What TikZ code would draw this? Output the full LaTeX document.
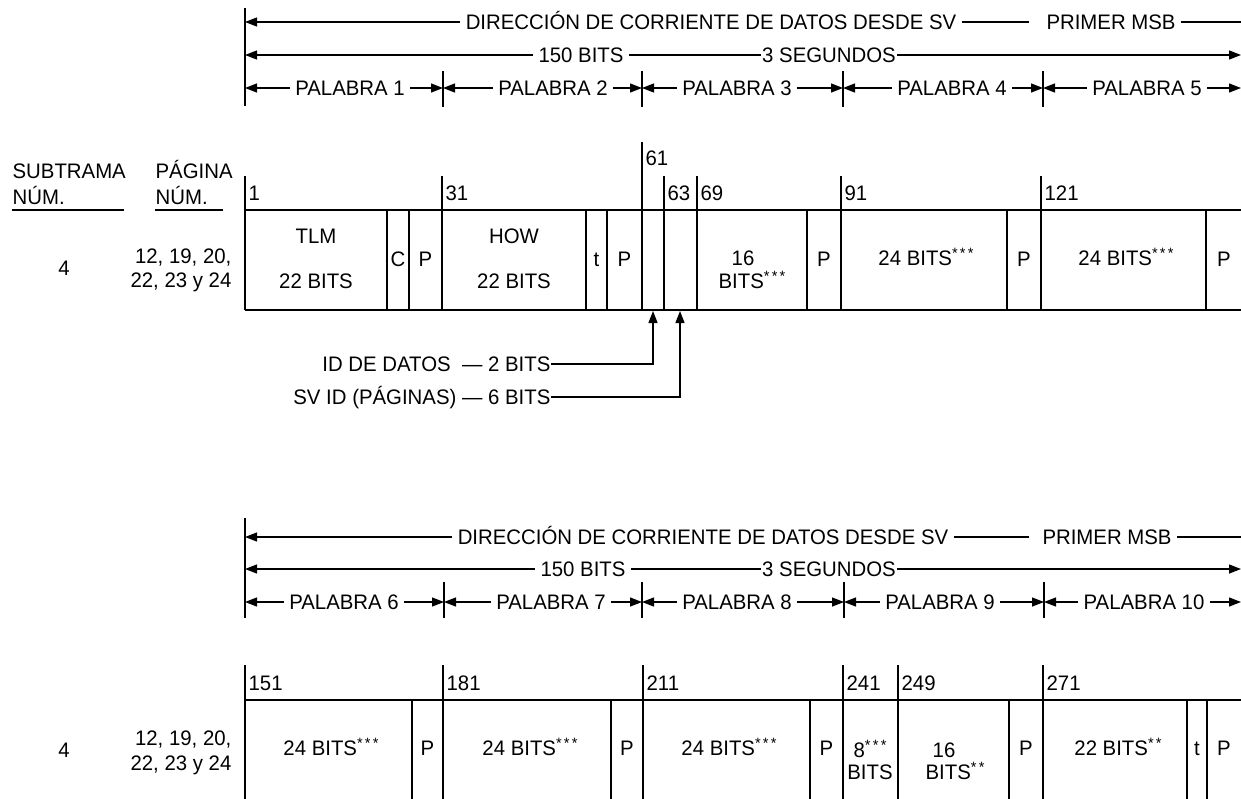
\documentclass[tikz,border=0pt]{standalone}
\usepackage{fontspec}
\setmainfont{Liberation Sans}[FakeStretch=0.97]
\usetikzlibrary{arrows.meta}
\newcommand{\estr}[1]{\raisebox{7.5pt}{\fontsize{15}{15}\selectfont\addfontfeature{LetterSpace=15}#1}}

\begin{document}
\begin{tikzpicture}[x=1pt, y=-1pt, >={Triangle[length=12pt, width=9pt]}, line width=1.3pt,
  every node/.style={font=\fontsize{21}{24}\selectfont, inner sep=0pt, text height=15pt, text depth=0pt},
  etiq/.style={inner xsep=5pt},
  num/.style={anchor=west, xshift=3pt}]
\useasboundingbox (0,0) rectangle (1241,798);
\clip (0,0) rectangle (1241,798);

% ---------- subtrama, palabras 1 a 5 ----------
% cotas
\draw (245,8) -- (245,106);
\coordinate (ia) at (245,22); \coordinate (fa) at (1241,22);
\node[etiq] (dir1) at (711,22) {DIRECCIÓN DE CORRIENTE DE DATOS DESDE SV};
\node[etiq] (msb1) at (1111,22) {PRIMER MSB};
\draw[->] (dir1) -- (ia);
\draw (dir1) -- ([xshift=-12pt]msb1.west);
\draw (msb1) -- (fa);

\coordinate (ib) at (245,55); \coordinate (fb) at (1241,55);
\node[etiq] (bits1) at (581,55) {150 BITS};
\node[inner xsep=1pt] (seg1) at (829,55) {3 SEGUNDOS};
\draw[->] (bits1) -- (ib);
\draw (bits1) -- (seg1);
\draw[->] (seg1) -- (fb);

\foreach \x in {443,642,843,1043} \draw (\x,71) -- (\x,107);
\foreach \n/\xa/\xc/\xb in {1/245/350/443, 2/443/553/642, 3/642/737/843, 4/843/952/1043, 5/1043/1147/1241} {
  \coordinate (pi\n) at (\xa,88); \coordinate (pf\n) at (\xb,88);
  \node[etiq] (pal\n) at (\xc,88) {PALABRA \n};
  \draw[->] (pal\n) -- (pi\n);
  \draw[->] (pal\n) -- (pf\n);
}

% encabezados
\node[anchor=west] (subt) at (12,171) {SUBTRAMA};
\node[anchor=west] (subn) at (12,197) {NÚM.};
\draw (12,210) -- (124,210);
\node[anchor=west] (pag) at (155,171) {PÁGINA};
\node[anchor=west] (pagn) at (155,197) {NÚM.};
\draw (155,210) -- (223,210);

% trama
\node (sf1) at (64,268) {4};
\node[anchor=east] (pg1a) at (232,256) {12, 19, 20,};
\node[anchor=east] (pg1b) at (232,280) {22, 23 y 24};
\draw (245,210) -- (1250,210);
\draw (245,310) -- (1250,310);
\foreach \x/\t in {245/1, 442/31, 664/63, 697/69, 841/91, 1041/121} {
  \draw (\x,176) -- (\x,310);
  \node[num] (n\t) at (\x,192.5) {\t};
}
\draw (642,142) -- (642,310);
\node[num] (n61) at (642,158) {61};
\foreach \x in {387,409,586,607,807,1007,1206} \draw (\x,210) -- (\x,310);

\node (tlm) at (316,236) {TLM};
\node (tlmb) at (316,281) {22 BITS};
\node (c1) at (398,259) {C};
\node (p1) at (425.5,259) {P};
\node (how) at (514,236) {HOW};
\node (howb) at (514,281) {22 BITS};
\node (t1) at (596.5,259) {t};
\node (p2) at (624.5,259) {P};
\node (d16) at (743,258) {16};
\node (d16b) at (752,281) {BITS\estr{***}};
\node (p3) at (824,259) {P};
\node (w4) at (926,258) {24 BITS\estr{***}};
\node (p4) at (1024,259) {P};
\node (w5) at (1126,258) {24 BITS\estr{***}};
\node (p5) at (1224,259) {P};

% indicadores
\coordinate (id61) at (653,311);
\coordinate (id63) at (680,311);
\node[anchor=east] (iddat) at (551,364) {ID DE DATOS\ \ --- 2 BITS};
\node[anchor=east] (svid) at (551,397) {SV ID (PÁGINAS) --- 6 BITS};
\draw[->] (iddat) -| (id61);
\draw[->] (svid) -| (id63);

% ---------- subtrama, palabras 6 a 10 ----------
% cotas
\draw (245,518) -- (245,618);
\coordinate (ic) at (245,537); \coordinate (fc) at (1241,537);
\node[etiq] (dir2) at (703,537) {DIRECCIÓN DE CORRIENTE DE DATOS DESDE SV};
\node[etiq] (msb2) at (1107,537) {PRIMER MSB};
\draw[->] (dir2) -- (ic);
\draw (dir2) -- ([xshift=-8pt]msb2.west);
\draw (msb2) -- (fc);

\coordinate (id) at (245,569); \coordinate (fd) at (1241,569);
\node[etiq] (bits2) at (583,569) {150 BITS};
\node[inner xsep=1pt] (seg2) at (829,569) {3 SEGUNDOS};
\draw[->] (bits2) -- (id);
\draw (bits2) -- (seg2);
\draw[->] (seg2) -- (fd);

\foreach \x in {444,642,844,1044} \draw (\x,582) -- (\x,618);
\foreach \n/\xa/\xc/\xb in {6/245/344/444, 7/444/551/642, 8/642/737/844, 9/844/940/1044, 10/1044/1144/1241} {
  \coordinate (pi\n) at (\xa,602); \coordinate (pf\n) at (\xb,602);
  \node[etiq] (pal\n) at (\xc,602) {PALABRA \n};
  \draw[->] (pal\n) -- (pi\n);
  \draw[->] (pal\n) -- (pf\n);
}

% trama
\node (sf2) at (64,750) {4};
\node[anchor=east] (pg2a) at (232,738) {12, 19, 20,};
\node[anchor=east] (pg2b) at (232,763) {22, 23 y 24};
\draw (245,700) -- (1250,700);
\foreach \x/\t in {245/151, 443/181, 643/211, 843/241, 898/249, 1043/271} {
  \draw (\x,665) -- (\x,810);
  \node[num] (n\t) at (\x,682.5) {\t};
}
\foreach \x in {412,611,810,1009,1187,1207} \draw (\x,700) -- (\x,810);

\node (w6) at (331,748) {24 BITS\estr{***}};
\node (p6) at (427.5,748) {P};
\node (w7) at (530,748) {24 BITS\estr{***}};
\node (p7) at (627,748) {P};
\node (w8) at (729,748) {24 BITS\estr{***}};
\node (p8) at (826.5,748) {P};
\node (d8) at (870,750) {8\estr{***}};
\node (d8b) at (870,772) {BITS};
\node (e16) at (944,750) {16};
\node (e16b) at (955,772) {BITS\estr{**}};
\node (p9) at (1026,748) {P};
\node (w10) at (1118,748) {22 BITS\estr{**}};
\node (t10) at (1197,748) {t};
\node (p10) at (1224,748) {P};
\end{tikzpicture}
\end{document}
